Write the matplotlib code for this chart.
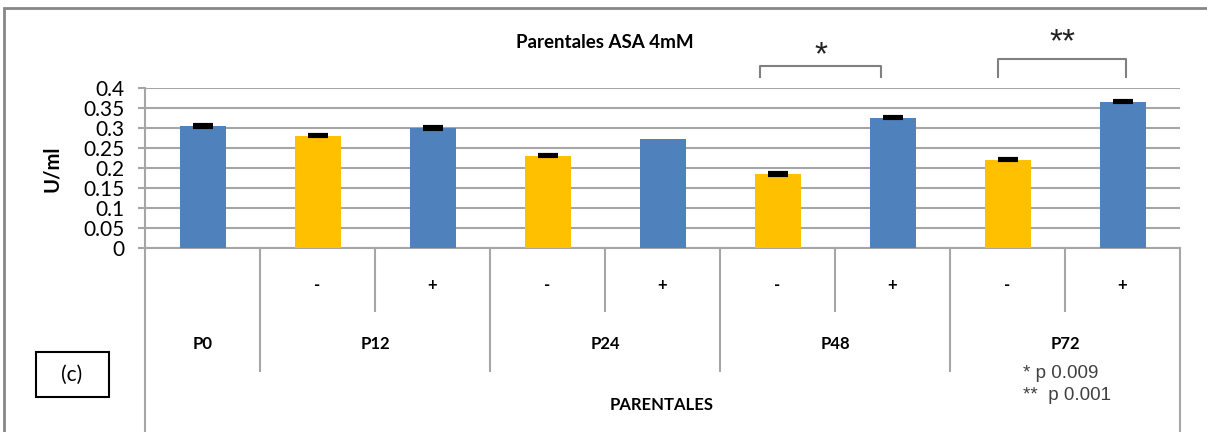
import matplotlib
matplotlib.use("Agg")
import matplotlib.pyplot as plt
from matplotlib.patches import Rectangle
from matplotlib.transforms import blended_transform_factory

# datos
grupos = ["P0", "P12", "P24", "P48", "P72"]
signos = ["", "-", "+", "-", "+", "-", "+", "-", "+"]
valores = [0.305, 0.281, 0.300, 0.231, 0.272, 0.185, 0.326, 0.221, 0.366]
errores = [0.002, 0.002, 0.002, 0.002, None, 0.002, 0.002, 0.002, 0.002]
y_ticks = [0, 0.05, 0.1, 0.15, 0.2, 0.25, 0.3, 0.35, 0.4]
y_tick_labels = ["0", "0.05", "0.1", "0.15", "0.2", "0.25", "0.3", "0.35", "0.4"]
pvalores = ["* p 0.009", "**  p 0.001"]

AZUL = "#4F81BD"
AMARILLO = "#FFC000"
GRIS = "#A6A6A6"

W, H = 1207, 432
plt.rcParams["font.family"] = ["Lato", "DejaVu Sans"]

fig = plt.figure(figsize=(W / 100, H / 100), dpi=100)

def fx(px):
    return px / W

def fy(py):
    return 1 - py / H

ax = fig.add_axes([fx(145), fy(248), fx(1180) - fx(145), fy(88) - fy(248)])

x = list(range(len(valores)))
colores = [AZUL if s != "-" else AMARILLO for s in signos]
ax.bar(x, valores, width=0.4, color=colores, zorder=3)

# barras de error (solo donde hay dato)
xe = [xi for xi, e in zip(x, errores) if e is not None]
ve = [v for v, e in zip(valores, errores) if e is not None]
ee = [e for e in errores if e is not None]
ax.errorbar(xe, ve, yerr=ee, fmt="none", ecolor="black",
            elinewidth=3, capsize=7, capthick=3, zorder=4)

ax.set_xlim(-0.5, len(valores) - 0.5)
ax.set_ylim(0, 0.4)
ax.set_yticks(y_ticks)
ax.set_yticklabels(y_tick_labels)
ax.set_xticks([])
ax.yaxis.grid(True, color=GRIS, lw=1.5, zorder=0)
for s in ["top", "right", "bottom"]:
    ax.spines[s].set_visible(False)
ax.spines["left"].set_color(GRIS)
ax.spines["left"].set_linewidth(1.5)
ax.tick_params(axis="y", length=5, width=1.5, color=GRIS, pad=10, labelsize=15)
ax.axhline(0, color=GRIS, lw=1.5, zorder=2, clip_on=False)

# lineas de categorias bajo el eje
trans = blended_transform_factory(ax.transData, ax.transAxes)
n = len(valores)
for i in range(n + 1):
    b = i - 0.5
    if i == 0 or i == n:
        y_fin = -1.3
    elif i % 2 == 1:
        y_fin = -0.77
    else:
        y_fin = -0.395
    ax.plot([b, b], [0, y_fin], transform=trans, color=GRIS, lw=1.5,
            clip_on=False)

# etiquetas - / +
for xi, s in zip(x, signos):
    if s:
        ax.text(xi, -0.23, s, transform=trans, ha="center", va="center",
                fontsize=12, fontweight="bold")

# etiquetas de grupo
centros = [0] + [1.5 + 2 * k for k in range(len(grupos) - 1)]
for c, g in zip(centros, grupos):
    ax.text(c, -0.6, g, transform=trans, ha="center", va="center",
            fontsize=12, fontweight="bold")

fig.text(fx(662), fy(405), "PARENTALES", ha="center", va="center",
         fontsize=12, fontweight="bold")
fig.text(fx(605), fy(42), "Parentales ASA 4mM", ha="center", va="center",
         fontsize=13.5, fontweight="bold")
fig.text(fx(52), fy(169), "U/ml", rotation=90, ha="center", va="center",
         fontsize=14.5, fontweight="bold")

# llaves de significancia: (x izq, x der, altura, marca, altura marca)
llaves = [(4.85, 5.9, 0.456, "*", 0.48), (6.92, 8.03, 0.4725, "**", 0.513)]
for x0, x1, ytop, marca, ymarca in llaves:
    ax.plot([x0, x0, x1, x1], [0.4275, ytop, ytop, 0.4275], color="#808080",
            lw=1.5, clip_on=False, solid_joinstyle="round")
    ax.text((x0 + x1) / 2, ymarca, marca, ha="center", va="center",
            fontsize=24, family="Liberation Sans", color="#222222")

# notas de p
for k, t in enumerate(pvalores):
    fig.text(fx(1023), fy(373 + 23 * k), t, ha="left", va="center",
             fontsize=13.5, family="Liberation Sans", color="#404040")

# caja (c)
fig.patches.append(Rectangle((fx(36), fy(397)), fx(109) - fx(36),
                             fy(352) - fy(397), transform=fig.transFigure,
                             fill=False, edgecolor="black", lw=1.5))
fig.text(fx(72), fy(375), "(c)", ha="center", va="center", fontsize=15)

# marco exterior
fig.patches.append(Rectangle((fx(4), fy(460)), 1.2, fy(8) - fy(460),
                             transform=fig.transFigure, fill=False,
                             edgecolor="#878787", lw=2))

fig.savefig("out.png", dpi=100)
